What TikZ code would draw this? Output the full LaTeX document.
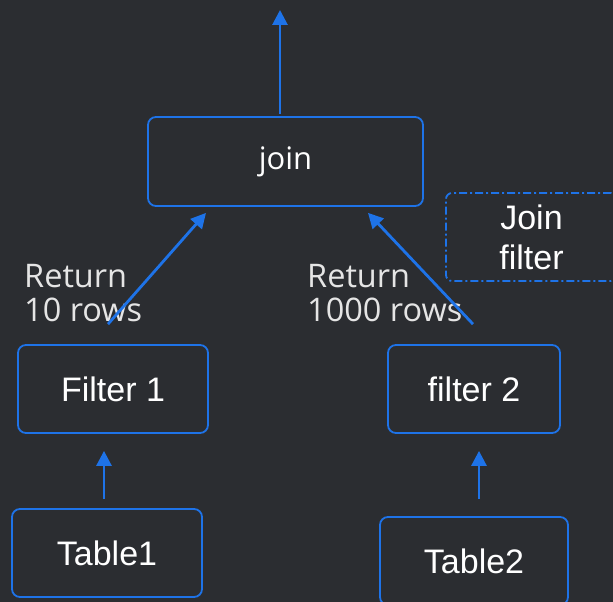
\documentclass[tikz,border=0pt]{standalone}
\usepackage{fontspec}
\setmainfont{Liberation Sans}
\newfontfamily\labfont{Open Sans}
\usetikzlibrary{arrows.meta,positioning}
\definecolor{bgdark}{RGB}{43,45,49}
\definecolor{opblue}{RGB}{30,115,232}

\begin{document}
\begin{tikzpicture}[x=1pt,y=-1pt,
	op/.style={draw=opblue,line width=1.8pt,rounded corners=8pt,text=white,
		font=\fontsize{34}{40}\selectfont,inner sep=0pt,align=center},
	flow/.style={color=opblue,line width=2.8pt,-{Triangle[length=15pt,width=15pt]}},
	note/.style={text=white!90!black,align=left,inner sep=0pt,
		font=\labfont\fontsize{32.5}{34}\selectfont}]
	\fill[bgdark] (0,0) rectangle (613,602);
	\useasboundingbox (0,0) rectangle (613,602);
	\clip (0,0) rectangle (613,602);
	% operators
	\node[op,minimum width=275pt,minimum height=89pt,font=\labfont\fontsize{31}{40}\selectfont] (join) at (285.5,161.5) {join};
	\node[op,minimum width=190pt,minimum height=88pt] (filt1) at (113,389) {Filter 1};
	\node[op,minimum width=172pt,minimum height=88pt] (filt2) at (474,389) {filter 2};
	\node[op,minimum width=190pt,minimum height=88pt] (tab1) at (107,553) {Table1};
	\node[op,minimum width=188pt,minimum height=88pt] (tab2) at (474,561) {Table2};
	\node[op,minimum width=171pt,minimum height=88pt,rounded corners=6pt,
		dash pattern=on 8pt off 3pt on 2pt off 3pt] (jfilt) at (531.5,237) {Join\\filter};
	% row counts
	\node[note,anchor=base west] (ret1) at (24,321) {Return\\10 rows};
	\node[note,anchor=base west] (ret2) at (307,321) {Return\\1000 rows};
	\coordinate (out) at (280,10);
	\path
	([xshift=-5.5pt,yshift=2pt]join.north) edge[flow] (out)
	([xshift=-5pt,yshift=20pt]filt1.north) edge[flow] ([xshift=-79.5pt,yshift=-6pt]join.south)
	([xshift=-1pt,yshift=20pt]filt2.north) edge[flow] ([xshift=82.5pt,yshift=-6pt]join.south)
	([xshift=-3pt,yshift=9pt]tab1.north) edge[flow] ([xshift=-9pt,yshift=-17pt]filt1.south)
	([xshift=5pt,yshift=17pt]tab2.north) edge[flow] ([xshift=5pt,yshift=-17pt]filt2.south);
\end{tikzpicture}
\end{document}
